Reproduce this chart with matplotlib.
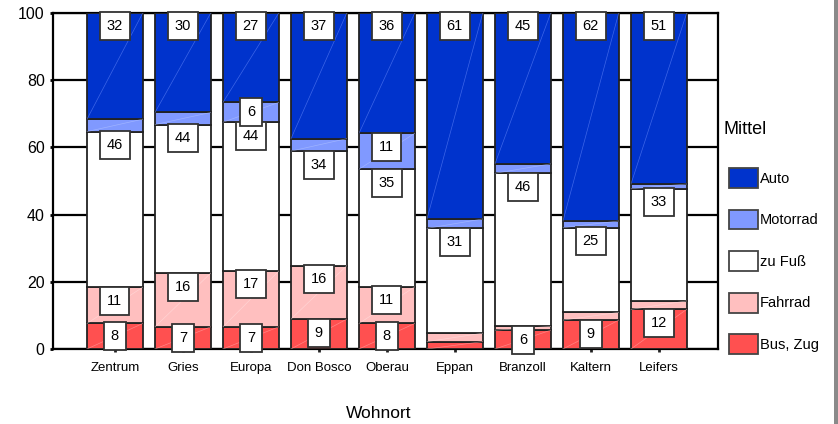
import matplotlib
matplotlib.use("Agg")
import matplotlib.pyplot as plt
from matplotlib.patches import Rectangle

plt.rcParams["font.family"] = ["Liberation Sans", "DejaVu Sans"]

# Wohnorte und Anteile der Verkehrsmittel (%)
wohnorte = ["Zentrum", "Gries", "Europa", "Don Bosco", "Oberau",
            "Eppan", "Branzoll", "Kaltern", "Leifers"]
bus_zug = [7.6, 6.6, 6.6, 8.9, 7.6, 2.2, 5.6, 8.6, 11.8]
fahrrad = [10.8, 16.0, 16.6, 15.9, 10.9, 2.5, 1.1, 2.3, 2.5]
zu_fuss = [46.3, 44.2, 44.3, 34.1, 35.0, 31.2, 45.6, 25.2, 33.4]
motorrad = [3.7, 3.6, 5.9, 3.7, 10.7, 2.8, 2.8, 2.0, 1.4]
auto = [31.6, 29.6, 26.6, 37.4, 35.8, 61.3, 44.9, 61.9, 50.9]
y_ticks = [0, 20, 40, 60, 80, 100]

serien = [
    ("Bus, Zug", bus_zug, "#ff5050", "#ffb0b0"),
    ("Fahrrad", fahrrad, "#ffbfbf", "#ffe4e4"),
    ("zu Fuß", zu_fuss, "#ffffff", None),
    ("Motorrad", motorrad, "#8099ff", "#b8c8ff"),
    ("Auto", auto, "#0033cc", "#6f8fff"),
]

fig = plt.figure(figsize=(8.38, 4.24), dpi=100)
ax = fig.add_axes([53 / 838, 1 - 349 / 424, 665 / 838, 336 / 424])

x = list(range(len(wohnorte)))
breite = 0.82
boden = [0.0] * len(wohnorte)
handles = {}
for name, werte, farbe, diag in serien:
    bars = ax.bar(x, werte, breite, bottom=boden, color=farbe,
                  edgecolor="#222222", linewidth=1.3, label=name, zorder=3)
    handles[name] = bars
    for b, v in zip(bars, werte):
        bx, by, bw, bh = b.get_x(), b.get_y(), b.get_width(), b.get_height()
        if diag is not None:
            ax.plot([bx, bx + bw], [by, by + bh], color=diag, lw=0.5,
                    alpha=0.55, zorder=4)
        if v >= 5:
            top = by + bh
            yc = top - min(4.0, bh / 2)
            ax.text(bx + bw / 2, yc, f"{v:.0f}", ha="center", va="center",
                    fontsize=10.5, color="black", zorder=6,
                    bbox=dict(boxstyle="square,pad=0.48", fc="white",
                              ec="#333333", lw=1.3))
    boden = [b + v for b, v in zip(boden, werte)]

ax.set_xlim(-0.91, 8.87)
ax.set_ylim(0, 100)
ax.set_yticks(y_ticks)
ax.set_yticklabels([str(t) for t in y_ticks], fontsize=11.5)
ax.set_xticks(x)
ax.set_xticklabels(wohnorte, fontsize=9.5)
for lbl in ax.get_xticklabels():
    lbl.set_verticalalignment("baseline")
ax.tick_params(axis="y", direction="out", length=2, width=2, pad=4)
ax.tick_params(axis="x", direction="out", length=2, width=2, pad=13.8,
               color="#222222")
ax.yaxis.grid(True, color="black", linewidth=1.6, zorder=0)
ax.set_axisbelow(True)
for s in ax.spines.values():
    s.set_linewidth(1.6)
    s.set_color("black")

ax.set_xlabel("Wohnort", fontsize=12.5, va="center")
ax.xaxis.set_label_coords(326 / 665, -(413 - 349) / 336)

order = ["Auto", "Motorrad", "zu Fuß", "Fahrrad", "Bus, Zug"]
fig.text(723 / 838, 1 - 130 / 424, "Mittel", fontsize=13, ha="left",
         va="center")
leg = fig.legend([handles[n] for n in order], order,
                 loc="upper left", bbox_to_anchor=(719 / 838, 1 - 158 / 424),
                 frameon=False, fontsize=10.5,
                 handlelength=2.0, handleheight=1.7, handletextpad=0.1,
                 labelspacing=1.5, borderpad=0.2)
for p in leg.get_patches():
    p.set_edgecolor("#444444")

# grauer Randstreifen rechts
fig.patches.append(Rectangle((834 / 838, 0), 4 / 838, 1, transform=fig.transFigure,
                             facecolor="#8a8a8a", edgecolor="none"))

fig.savefig("out.png", dpi=100)
